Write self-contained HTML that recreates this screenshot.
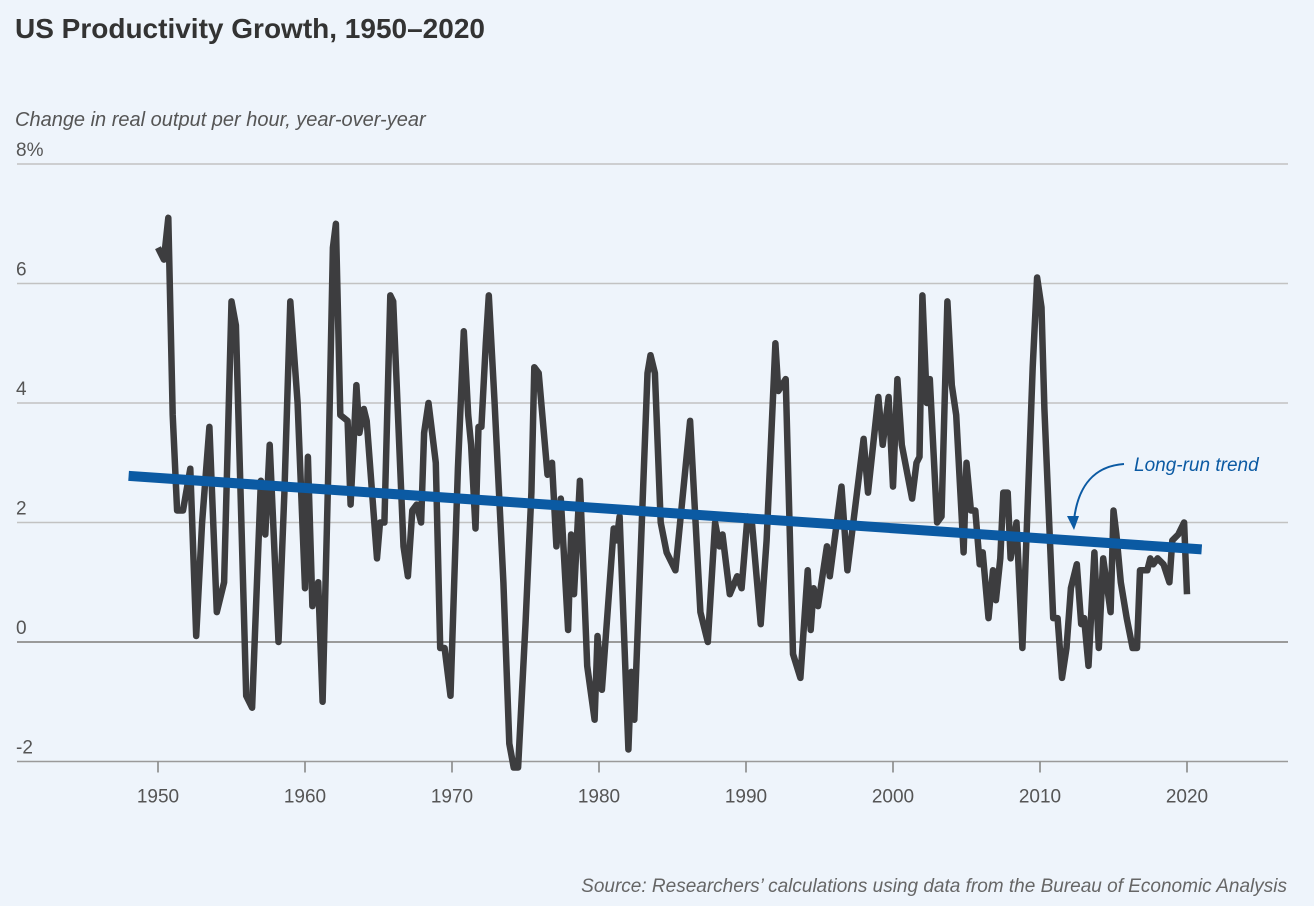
<!DOCTYPE html>
<html><head><meta charset="utf-8"><style>
html,body{margin:0;padding:0;background:#eef4fb;}
svg{display:block;font-family:"Liberation Sans",sans-serif;}
</style></head><body>
<svg width="1314" height="906" viewBox="0 0 1314 906">
<rect width="1314" height="906" fill="#eef4fb"/>
<text x="15" y="38" font-size="28" font-weight="bold" fill="#333">US Productivity Growth, 1950–2020</text>
<text x="15" y="126" font-size="20" font-style="italic" fill="#555">Change in real output per hour, year-over-year</text>
<g id="grid"></g>
<g id="xaxis"></g>
<g id="series"></g>
<text x="1287" y="892" font-size="19" font-style="italic" fill="#666" text-anchor="end">Source: Researchers’ calculations using data from the Bureau of Economic Analysis</text>
</svg>
<script>
const yTicks=[8,6,4,2,0,-2];
const yTickLabels=["8%","6","4","2","0","-2"];
const xTicks=[1950,1960,1970,1980,1990,2000,2010,2020];
const years=[1950.0,1950.4,1950.7,1951.0,1951.3,1951.7,1952.2,1952.6,1953.0,1953.5,1954.0,1954.5,1955.0,1955.3,1956.0,1956.4,1957.0,1957.3,1957.6,1958.2,1958.6,1959.0,1959.5,1960.0,1960.2,1960.5,1960.9,1961.2,1961.6,1961.9,1962.1,1962.4,1962.9,1963.1,1963.5,1963.7,1964.0,1964.2,1964.9,1965.1,1965.4,1965.8,1966.0,1966.7,1967.0,1967.3,1967.6,1967.9,1968.1,1968.4,1968.9,1969.2,1969.5,1969.9,1970.4,1970.8,1971.1,1971.3,1971.6,1971.8,1972.0,1972.3,1972.5,1972.9,1973.5,1973.9,1974.2,1974.5,1975.0,1975.4,1975.6,1975.9,1976.5,1976.8,1977.1,1977.4,1977.9,1978.1,1978.3,1978.7,1979.2,1979.7,1979.9,1980.2,1981.0,1981.2,1981.4,1982.0,1982.2,1982.4,1983.3,1983.5,1983.8,1984.2,1984.6,1985.2,1986.2,1986.9,1987.4,1987.9,1988.2,1988.4,1988.9,1989.4,1989.7,1990.1,1990.4,1991.0,1991.4,1992.0,1992.2,1992.7,1993.2,1993.7,1994.2,1994.4,1994.6,1994.9,1995.5,1995.7,1996.5,1996.9,1998.0,1998.3,1999.0,1999.3,1999.7,2000.0,2000.3,2000.6,2001.3,2001.6,2001.8,2002.0,2002.3,2002.5,2003.0,2003.3,2003.7,2004.0,2004.3,2004.8,2005.0,2005.3,2005.6,2005.9,2006.1,2006.5,2006.8,2007.0,2007.3,2007.5,2007.8,2008.0,2008.4,2008.8,2009.1,2009.5,2009.8,2010.1,2010.3,2010.9,2011.2,2011.5,2011.8,2012.1,2012.5,2012.8,2013.0,2013.3,2013.7,2014.0,2014.3,2014.8,2015.0,2015.2,2015.5,2015.9,2016.3,2016.6,2016.8,2017.3,2017.5,2017.7,2018.0,2018.4,2018.8,2019.0,2019.4,2019.8,2020.0];
const values=[6.6,6.4,7.1,3.8,2.2,2.2,2.9,0.1,2.0,3.6,0.5,1.0,5.7,5.3,-0.9,-1.1,2.7,1.8,3.3,0.0,2.5,5.7,4.0,0.9,3.1,0.6,1.0,-1.0,3.0,6.6,7.0,3.8,3.7,2.3,4.3,3.5,3.9,3.7,1.4,2.0,2.0,5.8,5.7,1.6,1.1,2.2,2.3,2.0,3.5,4.0,3.0,-0.1,-0.1,-0.9,2.9,5.2,3.8,3.3,1.9,3.6,3.6,5.0,5.8,4.0,1.0,-1.7,-2.1,-2.1,0.3,2.5,4.6,4.5,2.8,3.0,1.6,2.4,0.2,1.8,0.8,2.7,-0.4,-1.3,0.1,-0.8,1.9,1.7,2.1,-1.8,-0.5,-1.3,4.5,4.8,4.5,2.0,1.5,1.2,3.7,0.5,0.0,2.0,1.6,1.8,0.8,1.1,0.9,2.1,2.0,0.3,1.7,5.0,4.2,4.4,-0.2,-0.6,1.2,0.2,0.9,0.6,1.6,1.1,2.6,1.2,3.4,2.5,4.1,3.3,4.1,2.6,4.4,3.3,2.4,3.0,3.1,5.8,4.0,4.4,2.0,2.1,5.7,4.3,3.8,1.5,3.0,2.2,2.2,1.3,1.5,0.4,1.2,0.7,1.4,2.5,2.5,1.4,2.0,-0.1,1.9,4.6,6.1,5.6,3.9,0.4,0.4,-0.6,-0.1,0.9,1.3,0.3,0.4,-0.4,1.5,-0.1,1.4,0.5,2.2,1.8,1.0,0.4,-0.1,-0.1,1.2,1.2,1.4,1.3,1.4,1.3,1.0,1.7,1.8,2.0,0.8];
const trendYears=[1948,2021];
const trendValues=[2.78,1.55];

const NS="http://www.w3.org/2000/svg";
function xs(yr){return 158+(yr-1950)*14.7;}
function ys(v){return 642-v*59.75;}
const grid=document.getElementById('grid');
yTicks.forEach((t,i)=>{
  const l=document.createElementNS(NS,'line');
  l.setAttribute('x1',17);l.setAttribute('x2',1288);
  l.setAttribute('y1',ys(t));l.setAttribute('y2',ys(t));
  l.setAttribute('stroke',t===0||t===-2?'#9a9a9a':'#c2c2c2');l.setAttribute('stroke-width',t===0?2:1.6);
  
  
  grid.appendChild(l);
  const tx=document.createElementNS(NS,'text');
  tx.setAttribute('x',16);tx.setAttribute('y',ys(t)-8);
  tx.setAttribute('font-size',19);tx.setAttribute('fill','#555');
  tx.textContent=yTickLabels[i];
  
  
  grid.appendChild(tx);
});
const xa=document.getElementById('xaxis');
xTicks.forEach(t=>{
  const l=document.createElementNS(NS,'line');
  l.setAttribute('x1',xs(t));l.setAttribute('x2',xs(t));
  l.setAttribute('y1',ys(-2));l.setAttribute('y2',ys(-2)+11);
  l.setAttribute('stroke','#888');l.setAttribute('stroke-width',1.6);
  
  
  xa.appendChild(l);
  const tx=document.createElementNS(NS,'text');
  tx.setAttribute('x',xs(t));tx.setAttribute('y',ys(-2)+41);
  tx.setAttribute('font-size',19);tx.setAttribute('fill','#555');tx.setAttribute('text-anchor','middle');
  tx.textContent=t;
  
  
  xa.appendChild(tx);
});
const sg=document.getElementById('series');
const p=document.createElementNS(NS,'polyline');
p.setAttribute('points',years.map((y,i)=>xs(y).toFixed(1)+','+ys(values[i]).toFixed(1)).join(' '));
p.setAttribute('fill','none');p.setAttribute('stroke','#3d3d3f');p.setAttribute('stroke-width',6.5);p.setAttribute('stroke-linejoin','round');


sg.appendChild(p);
const tr=document.createElementNS(NS,'line');
tr.setAttribute('x1',xs(trendYears[0]));tr.setAttribute('y1',ys(trendValues[0]));
tr.setAttribute('x2',xs(trendYears[1]));tr.setAttribute('y2',ys(trendValues[1]));
tr.setAttribute('stroke','#0b5aa3');tr.setAttribute('stroke-width',10);


sg.appendChild(tr);
const ann=document.createElementNS(NS,'text');
ann.setAttribute('x',1134);ann.setAttribute('y',471);ann.setAttribute('font-size',19);ann.setAttribute('font-style','italic');ann.setAttribute('fill','#0b5aa3');
ann.textContent='Long-run trend';


sg.appendChild(ann);
const arr=document.createElementNS(NS,'path');
arr.setAttribute('d','M1124,464 C1095,466 1078,485 1074,520');
arr.setAttribute('fill','none');arr.setAttribute('stroke','#0b5aa3');arr.setAttribute('stroke-width',2);


sg.appendChild(arr);
const head=document.createElementNS(NS,'path');
head.setAttribute('d','M1067,516 L1074,530 L1079,516 Z');
head.setAttribute('fill','#0b5aa3');


sg.appendChild(head);
</script>
</body></html>
